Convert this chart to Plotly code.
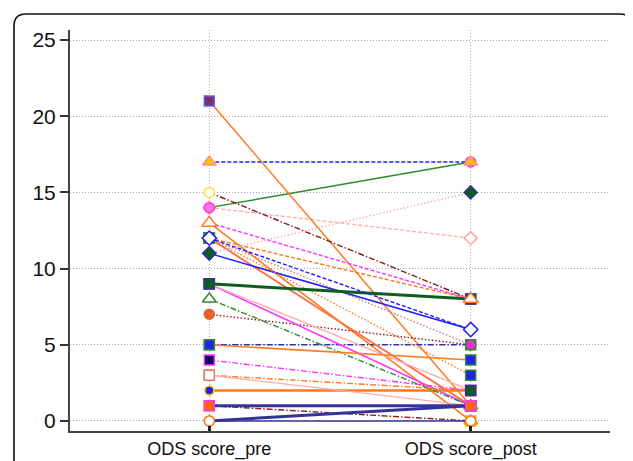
import plotly.graph_objects as go

# ---- data (one entry per subject) ----
categories = ["ODS score_pre", "ODS score_post"]
pre_scores  = [14, 14, 21, 13, 15, 5, 7, 12, 12, 12, 12, 11, 12, 9, 13, 9, 2, 4, 3, 9, 8, 5, 3, 1, 0, 0, 1, 11, 12, 17]
post_scores = [12, 17, 1, 0, 8, 5, 5, 5, 8, 1, 1, 6, 3, 8, 8, 1, 2, 2, 2, 2, 1, 4, 1, 0, 1, 0, 1, 15, 6, 17]
y_ticks = [0, 5, 10, 15, 20, 25]

# ---- styles per subject (same order) ----
ORANGE = "#FF7A1A"; BLUE = "#1F1FFF"; NAVY = "#33339A"; MAG = "#FF33FF"
LPINK = "#FFAAAA"; DRED = "#8B1A1A"; GREEN = "#2E8B2E"; DGREEN = "#0B5E1E"; WHITE = "#FFFFFF"
DASH = "4px,2px"; DOT = "1.5px,2px"; DASHDOT = "6px,2px,1.5px,2px"; SOLID = "solid"
line_color = [LPINK, GREEN, ORANGE, ORANGE, DRED, NAVY, DRED, "#C08080", ORANGE, MAG, ORANGE, BLUE,
              ORANGE, DGREEN, MAG, MAG, ORANGE, MAG, ORANGE, LPINK, GREEN, ORANGE, LPINK, DRED,
              NAVY, NAVY, NAVY, LPINK, BLUE, BLUE]
line_dash = [DASH, SOLID, SOLID, SOLID, DASHDOT, DASHDOT, DOT, DOT, DASH, SOLID, SOLID, SOLID,
             DOT, SOLID, DASH, SOLID, SOLID, DASHDOT, DASHDOT, SOLID, DASHDOT, SOLID, SOLID,
             DASHDOT, SOLID, SOLID, SOLID, DOT, DASH, DASH]
line_width = [1.3, 1.4, 1.5, 1.5, 1.4, 1.4, 1.4, 1.4, 1.4, 1.5, 1.5, 1.5,
              1.4, 3, 1.4, 1.5, 2.5, 1.4, 1.4, 1.3, 1.4, 1.5, 1.3, 1.4,
              3, 1.5, 3, 1.4, 1.4, 1.4]
m_symbol = ["diamond", "circle", "square", "triangle-up", "circle", "square", "circle", "circle", "square",
            "square", "square", "diamond", "square", "square", "triangle-up", "square", "circle", "square",
            "square", "square", "triangle-up", "square", "square", "square", "circle", "circle", "square",
            "diamond", "diamond", "triangle-up"]
m_size = [10, 10, 10, 12, 10, 10, 10, 10, 10, 10, 10, 10, 10, 10, 13, 10, 9, 10, 10, 10, 12, 10, 10, 10,
          10, 10, 10, 10, 11, 12]
m_fill = [WHITE, "#FF77CC", "#7B3060", WHITE, WHITE, BLUE, "#E8602C", "#FF22EE", BLUE, BLUE, BLUE, DGREEN,
          BLUE, DGREEN, WHITE, DGREEN, BLUE, "#100060", WHITE, DGREEN, WHITE, BLUE, WHITE, "#FF6600",
          WHITE, WHITE, "#FF6600", DGREEN, WHITE, "#FFC000"]
m_edge = [LPINK, MAG, "#6060FF", ORANGE, "#FFE040", GREEN, "#E8602C", GREEN, GREEN, GREEN, GREEN, NAVY,
          GREEN, NAVY, ORANGE, NAVY, "#FFD000", MAG, "#E08060", NAVY, GREEN, GREEN, "#E08060", "#FFB000",
          ORANGE, ORANGE, MAG, NAVY, BLUE, "#FF9090"]

fig = go.Figure()
for i in range(len(pre_scores)):
    fig.add_trace(go.Scatter(
        x=[0, 1], y=[pre_scores[i], post_scores[i]],
        mode="lines+markers",
        line=dict(color=line_color[i], dash=line_dash[i], width=line_width[i]),
        marker=dict(symbol=m_symbol[i], size=m_size[i], color=m_fill[i],
                    line=dict(color=m_edge[i], width=1.5)),
        showlegend=False, hoverinfo="y", cliponaxis=False))

# page has an 8px body margin; figure occupies page px 8..633
OFF = 8
W, H = 633 - OFF, 461 - OFF
L, R, T, B = 70 - OFF, 633 - 610, 30 - OFF, 461 - 431
pw, ph = W - L - R, H - T - B
def px(x): return (x - OFF - L) / pw
def py(y): return (H - B - (y - OFF)) / ph
rx, ry = 12 / pw, 12 / ph
x0, x1, y0, y1 = px(14), px(632), py(490), py(14)
frame = (f"M {x0},{y0} L {x0},{y1 - ry} Q {x0},{y1} {x0 + rx},{y1} "
         f"L {x1 - rx},{y1} Q {x1},{y1} {x1},{y1 - ry} L {x1},{y0}")

GRID = "#A8A8A8"
fig.update_layout(
    width=W, height=H,
    margin=dict(l=L, r=R, t=T, b=B, autoexpand=False),
    paper_bgcolor="white", plot_bgcolor="white",
    font=dict(family="Liberation Sans, Arial, sans-serif", size=18, color="#111111"),
    shapes=[dict(type="path", path=frame, xref="paper", yref="paper",
                 line=dict(color="#111111", width=1.6), layer="above")],
    xaxis=dict(range=[-0.533, 1.533], tickvals=[0, 1], ticktext=categories,
               showgrid=True, gridcolor=GRID, griddash="1px,2px", gridwidth=1,
               showline=True, linecolor="#444444", linewidth=2,
               ticks="inside", ticklen=5, tickwidth=3, tickcolor="#222222",
               tickfont=dict(size=18), zeroline=False, fixedrange=True),
    yaxis=dict(range=[-0.66, 25.66], tickvals=y_ticks,
               showgrid=True, gridcolor=GRID, griddash="1px,2px", gridwidth=1,
               showline=True, linecolor="#444444", linewidth=2,
               ticks="outside", ticklen=8, tickwidth=2, tickcolor="#333333",
               tickfont=dict(size=21), zeroline=False, fixedrange=True),
)

fig.write_html("out.html")
